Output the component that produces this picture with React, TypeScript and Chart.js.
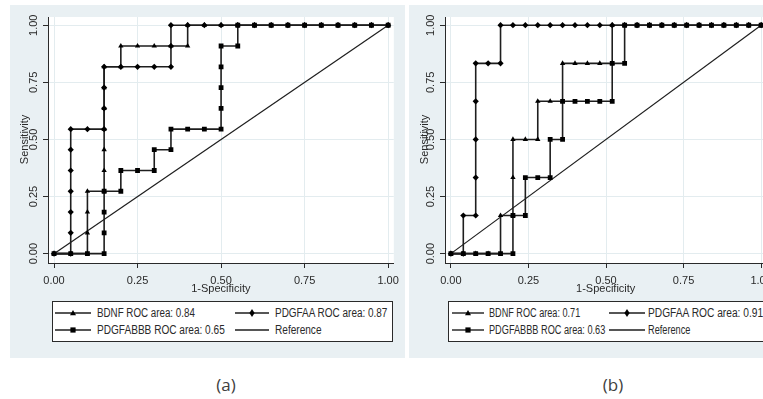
import React, { useEffect, useRef } from 'react';
import { Chart, registerables } from 'chart.js';
Chart.register(...registerables);

// ---------- data ----------
const AXIS_TICKS = [0, 0.25, 0.5, 0.75, 1];
const TICK_LABELS = ['0.00', '0.25', '0.50', '0.75', '1.00'];
const X_TITLE = '1-Specificity';
const Y_TITLE = 'Sensitivity';
const REF_X = [0, 1];
const REF_Y = [0, 1];

// Panel (a)
const A_BDNF_X = [0, 0.05, 0.1, 0.1, 0.1, 0.1, 0.15, 0.15, 0.15, 0.15, 0.15, 0.15, 0.15, 0.2, 0.2, 0.25, 0.3, 0.35, 0.4, 0.4, 0.45, 0.5, 0.55, 0.6, 0.65, 0.7, 0.75, 0.8, 0.85, 0.9, 0.95, 1];
const A_BDNF_Y = [0, 0, 0, 0.091, 0.182, 0.273, 0.273, 0.364, 0.455, 0.545, 0.636, 0.727, 0.818, 0.818, 0.909, 0.909, 0.909, 0.909, 0.909, 1, 1, 1, 1, 1, 1, 1, 1, 1, 1, 1, 1, 1];
const A_AA_X = [0, 0.05, 0.05, 0.05, 0.05, 0.05, 0.05, 0.05, 0.1, 0.15, 0.15, 0.15, 0.15, 0.2, 0.25, 0.3, 0.35, 0.35, 0.35, 0.4, 0.45, 0.5, 0.55, 0.6, 0.65, 0.7, 0.75, 0.8, 0.85, 0.9, 0.95, 1];
const A_AA_Y = [0, 0, 0.091, 0.182, 0.273, 0.364, 0.455, 0.545, 0.545, 0.545, 0.636, 0.727, 0.818, 0.818, 0.818, 0.818, 0.818, 0.909, 1, 1, 1, 1, 1, 1, 1, 1, 1, 1, 1, 1, 1, 1];
const A_BB_X = [0, 0.05, 0.1, 0.15, 0.15, 0.15, 0.15, 0.2, 0.2, 0.25, 0.3, 0.3, 0.35, 0.35, 0.4, 0.45, 0.5, 0.5, 0.5, 0.5, 0.5, 0.55, 0.55, 0.6, 0.65, 0.7, 0.75, 0.8, 0.85, 0.9, 0.95, 1];
const A_BB_Y = [0, 0, 0, 0, 0.091, 0.182, 0.273, 0.273, 0.364, 0.364, 0.364, 0.455, 0.455, 0.545, 0.545, 0.545, 0.545, 0.636, 0.727, 0.818, 0.909, 0.909, 1, 1, 1, 1, 1, 1, 1, 1, 1, 1];
const A_LEGEND = ['BDNF ROC area: 0.84', 'PDGFAA ROC area: 0.87', 'PDGFABBB ROC area: 0.65', 'Reference'];

// Panel (b)
const B_BDNF_X = [0, 0.04, 0.08, 0.12, 0.16, 0.16, 0.2, 0.2, 0.2, 0.24, 0.28, 0.28, 0.32, 0.36, 0.36, 0.4, 0.44, 0.48, 0.52, 0.52, 0.56, 0.6, 0.64, 0.68, 0.72, 0.76, 0.8, 0.84, 0.88, 0.92, 0.96, 1];
const B_BDNF_Y = [0, 0, 0, 0, 0, 0.167, 0.167, 0.333, 0.5, 0.5, 0.5, 0.667, 0.667, 0.667, 0.833, 0.833, 0.833, 0.833, 0.833, 1, 1, 1, 1, 1, 1, 1, 1, 1, 1, 1, 1, 1];
const B_AA_X = [0, 0.04, 0.04, 0.08, 0.08, 0.08, 0.08, 0.08, 0.12, 0.16, 0.16, 0.2, 0.24, 0.28, 0.32, 0.36, 0.4, 0.44, 0.48, 0.52, 0.56, 0.6, 0.64, 0.68, 0.72, 0.76, 0.8, 0.84, 0.88, 0.92, 0.96, 1];
const B_AA_Y = [0, 0, 0.167, 0.167, 0.333, 0.5, 0.667, 0.833, 0.833, 0.833, 1, 1, 1, 1, 1, 1, 1, 1, 1, 1, 1, 1, 1, 1, 1, 1, 1, 1, 1, 1, 1, 1];
const B_BB_X = [0, 0.04, 0.08, 0.12, 0.16, 0.2, 0.2, 0.24, 0.24, 0.28, 0.32, 0.32, 0.36, 0.36, 0.4, 0.44, 0.48, 0.52, 0.52, 0.56, 0.56, 0.6, 0.64, 0.68, 0.72, 0.76, 0.8, 0.84, 0.88, 0.92, 0.96, 1];
const B_BB_Y = [0, 0, 0, 0, 0, 0, 0.167, 0.167, 0.333, 0.333, 0.333, 0.5, 0.5, 0.667, 0.667, 0.667, 0.667, 0.667, 0.833, 0.833, 1, 1, 1, 1, 1, 1, 1, 1, 1, 1, 1, 1];
const B_LEGEND = ['BDNF ROC area: 0.71', 'PDGFAA ROC area: 0.91', 'PDGFABBB ROC area: 0.63', 'Reference'];

// ---------- styles ----------
const SANS = "'Liberation Sans', Arial, sans-serif";
const PANEL_BG = '#e9f0f3';
const GRID = '#e3ecef';
const INK = '#2a2a2a';
const LINE = '#1e1e1e';

const pts = (xs: number[], ys: number[]) => xs.map((x, i) => ({ x, y: ys[i] }));

type PanelGeom = {
  left: number; top: number; width: number; height: number;
  yWidth: number; xHeight: number; padTop: number; padRight: number;
  xMin: number; xMax: number; yMin: number; yMax: number;
  titleOffset: number;
};

type Series = { bdnfX: number[]; bdnfY: number[]; aaX: number[]; aaY: number[]; bbX: number[]; bbY: number[] };

function RocChart({ g, s }: { g: PanelGeom; s: Series }) {
  const ref = useRef<HTMLCanvasElement | null>(null);
  useEffect(() => {
    if (!ref.current) return;
    const bgPlugin = {
      id: 'plotbg',
      beforeDraw(chart: any) {
        const { ctx, chartArea: a } = chart;
        ctx.save();
        ctx.fillStyle = '#ffffff';
        ctx.fillRect(a.left, a.top, a.right - a.left, a.bottom - a.top);
        ctx.restore();
      },
    };
    const yTitlePlugin = {
      id: 'ytitle',
      afterDraw(chart: any) {
        const { ctx, chartArea: a, scales } = chart;
        ctx.save();
        ctx.translate(a.left - g.titleOffset, scales.y.getPixelForValue(0.5));
        ctx.rotate(-Math.PI / 2);
        ctx.textAlign = 'center';
        ctx.textBaseline = 'middle';
        ctx.fillStyle = INK;
        ctx.font = `11px ${SANS}`;
        ctx.fillText(Y_TITLE, 0, 0);
        ctx.restore();
      },
    };
    const common = {
      showLine: true,
      borderColor: LINE,
      borderWidth: 1.6,
      pointBackgroundColor: '#000',
      pointBorderColor: '#000',
      pointBorderWidth: 0,
      fill: false,
      tension: 0,
    };
    const chart = new Chart(ref.current, {
      type: 'scatter',
      data: {
        datasets: [
          { ...common, label: 'PDGFABBB', data: pts(s.bbX, s.bbY), pointStyle: 'rect', pointRadius: 3.4, order: 1 },
          { ...common, label: 'PDGFAA', data: pts(s.aaX, s.aaY), pointStyle: 'rectRot', pointRadius: 3.1, order: 2 },
          { ...common, label: 'BDNF', data: pts(s.bdnfX, s.bdnfY), pointStyle: 'triangle', pointRadius: 3.1, order: 3 },
          { ...common, label: 'Reference', data: pts(REF_X, REF_Y), pointRadius: 0, borderWidth: 1.2, order: 4 },
        ] as any,
      },
      options: {
        animation: false,
        responsive: false,
        maintainAspectRatio: false,
        events: [],
        layout: { padding: { left: 0, top: g.padTop, right: g.padRight, bottom: 0 } },
        plugins: { legend: { display: false }, tooltip: { enabled: false } },
        scales: {
          x: {
            type: 'linear',
            min: g.xMin,
            max: g.xMax,
            afterBuildTicks: (sc: any) => { sc.ticks = AXIS_TICKS.map((v) => ({ value: v })); },
            afterFit: (sc: any) => { sc.height = g.xHeight; },
            ticks: {
              callback: (_v: any, i: number) => TICK_LABELS[i],
              font: { family: SANS, size: 11 },
              color: INK,
              padding: 6,
              minRotation: 0,
              maxRotation: 0,
              autoSkip: false,
            },
            grid: { color: GRID, tickColor: INK, tickLength: 5, lineWidth: 1 },
            border: { display: true, color: INK, width: 1 },
            title: { display: true, text: X_TITLE, font: { family: SANS, size: 11 }, color: INK, padding: { top: 0, bottom: 4 } },
          },
          y: {
            type: 'linear',
            min: g.yMin,
            max: g.yMax,
            afterBuildTicks: (sc: any) => { sc.ticks = AXIS_TICKS.map((v) => ({ value: v })); },
            afterFit: (sc: any) => { sc.width = g.yWidth; },
            ticks: {
              callback: (_v: any, i: number) => TICK_LABELS[i],
              font: { family: SANS, size: 11 },
              color: INK,
              padding: -1.5,
              minRotation: 90,
              maxRotation: 90,
              crossAlign: 'center',
              autoSkip: false,
            },
            grid: { color: GRID, tickColor: INK, tickLength: 5, lineWidth: 1 },
            border: { display: true, color: INK, width: 1 },
          },
        },
      } as any,
      plugins: [bgPlugin, yTitlePlugin],
    });
    return () => chart.destroy();
  }, []);
  return (
    <canvas
      ref={ref}
      width={g.width}
      height={g.height}
      style={{ position: 'absolute', left: g.left, top: g.top, width: g.width, height: g.height }}
    />
  );
}

type Marker = 'triangle' | 'diamond' | 'square' | 'none';

function Sym({ x1, x2, y, mx, marker }: { x1: number; x2: number; y: number; mx: number; marker: Marker }) {
  const w = x2 - x1;
  const cx = mx - x1;
  let m: any = null;
  if (marker === 'triangle') m = <polygon points={`${cx},3 ${cx - 3},8.2 ${cx + 3},8.2`} fill="#000" />;
  if (marker === 'diamond') m = <polygon points={`${cx},2 ${cx + 2.6},6 ${cx},10 ${cx - 2.6},6`} fill="#000" />;
  if (marker === 'square') m = <rect x={cx - 2.6} y={3.4} width={5.2} height={5.2} fill="#000" />;
  return (
    <svg width={w} height={12} style={{ position: 'absolute', left: x1, top: y - 6 }}>
      <line x1={0} y1={6} x2={w} y2={6} stroke={LINE} strokeWidth={1.4} />
      {m}
    </svg>
  );
}

function LegendText({ x, y, text, sx }: { x: number; y: number; text: string; sx: number }) {
  return (
    <span
      style={{
        position: 'absolute', left: x, top: y - 8, height: 16, lineHeight: '16px', whiteSpace: 'nowrap',
        fontFamily: SANS, fontSize: 12, color: INK, transform: `scaleX(${sx})`, transformOrigin: 'left center',
      }}
    >
      {text}
    </span>
  );
}

type LegendGeom = {
  left: number; top: number; width: number; height: number;
  c1: [number, number, number, number]; // lineStart, lineEnd, marker, textStart
  c2: [number, number, number, number];
  r1: number; r2: number; sx: number[];
};

function Legend({ g, labels }: { g: LegendGeom; labels: string[] }) {
  return (
    <>
      <div style={{ position: 'absolute', left: g.left, top: g.top, width: g.width, height: g.height, border: `1px solid ${INK}`, boxSizing: 'border-box', background: '#fff' }} />
      <Sym x1={g.c1[0]} x2={g.c1[1]} y={g.r1} mx={g.c1[2]} marker="triangle" />
      <LegendText x={g.c1[3]} y={g.r1} text={labels[0]} sx={g.sx[0]} />
      <Sym x1={g.c2[0]} x2={g.c2[1]} y={g.r1} mx={g.c2[2]} marker="diamond" />
      <LegendText x={g.c2[3]} y={g.r1} text={labels[1]} sx={g.sx[1]} />
      <Sym x1={g.c1[0]} x2={g.c1[1]} y={g.r2} mx={g.c1[2]} marker="square" />
      <LegendText x={g.c1[3]} y={g.r2} text={labels[2]} sx={g.sx[2]} />
      <Sym x1={g.c2[0]} x2={g.c2[1]} y={g.r2} mx={g.c2[2]} marker="none" />
      <LegendText x={g.c2[3]} y={g.r2} text={labels[3]} sx={g.sx[3]} />
    </>
  );
}

const GEOM_A: PanelGeom = {
  left: 10, top: 5, width: 395, height: 295, yWidth: 38, xHeight: 37, padTop: 12, padRight: 10,
  xMin: -0.018, xMax: 1.017, yMin: -0.041, yMax: 1.036, titleOffset: 23,
};
const GEOM_B: PanelGeom = {
  left: 408, top: 5, width: 370, height: 295, yWidth: 37, xHeight: 37, padTop: 12, padRight: 10,
  xMin: -0.019, xMax: 1.017, yMin: -0.041, yMax: 1.036, titleOffset: 20,
};
const LEG_A: LegendGeom = {
  left: 52, top: 301, width: 341, height: 41,
  c1: [55, 91, 73, 97], c2: [235, 269, 252, 275], r1: 313, r2: 330, sx: [0.815, 0.83, 0.84, 0.84],
};
const LEG_B: LegendGeom = {
  left: 448, top: 301, width: 340, height: 41,
  c1: [452, 484, 468, 489], c2: [609, 645, 627, 648], r1: 313, r2: 330, sx: [0.76, 0.85, 0.765, 0.765],
};

export default function App() {
  return (
    <div style={{ position: 'absolute', left: 0, top: 0, width: 763, height: 399, overflow: 'hidden', background: '#fff' }}>
      <div style={{ position: 'absolute', left: 10, top: 5, width: 395, height: 353, background: PANEL_BG }} />
      <div style={{ position: 'absolute', left: 409, top: 5, width: 360, height: 353, background: PANEL_BG }} />
      <RocChart g={GEOM_A} s={{ bdnfX: A_BDNF_X, bdnfY: A_BDNF_Y, aaX: A_AA_X, aaY: A_AA_Y, bbX: A_BB_X, bbY: A_BB_Y }} />
      <RocChart g={GEOM_B} s={{ bdnfX: B_BDNF_X, bdnfY: B_BDNF_Y, aaX: B_AA_X, aaY: B_AA_Y, bbX: B_BB_X, bbY: B_BB_Y }} />
      <Legend g={LEG_A} labels={A_LEGEND} />
      <Legend g={LEG_B} labels={B_LEGEND} />
      <div style={{ position: 'absolute', left: 196, top: 373, width: 60, textAlign: 'center', fontFamily: "'Open Sans', 'Liberation Sans', sans-serif", fontSize: 17, lineHeight: '24px', color: '#404040' }}>(a)</div>
      <div style={{ position: 'absolute', left: 583, top: 373, width: 60, textAlign: 'center', fontFamily: "'Open Sans', 'Liberation Sans', sans-serif", fontSize: 17, lineHeight: '24px', color: '#404040' }}>(b)</div>
    </div>
  );
}
